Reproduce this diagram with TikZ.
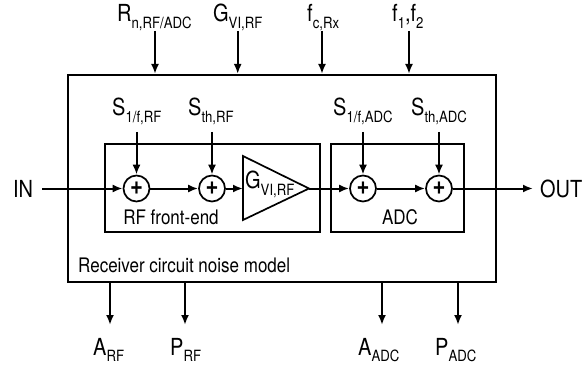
\documentclass[tikz,border=0pt]{standalone}
\usepackage{fontspec}
\setmainfont[FakeStretch=0.85]{TeX Gyre Heros}
\usetikzlibrary{arrows.meta}

\newcommand{\lbl}[2]{#1\raisebox{-0.27em}{\fontsize{15.5}{15.5}\selectfont #2}}

\begin{document}
\begin{tikzpicture}[x=1pt,y=-1pt,>={Latex[length=10pt,width=8pt]}]
	\useasboundingbox (0,0) rectangle (582,369);

	\begin{scope}[every node/.style={draw,line width=2pt,inner sep=0pt}]
		\node (model) at (281.5,178.7) [minimum width=428pt,minimum height=207.5pt] {};
		\node (rfbox) at (212.3,188) [minimum width=214.5pt,minimum height=88pt] {};
		\node (adcbox) at (397.5,188) [minimum width=133pt,minimum height=88pt] {};
	\end{scope}

	\begin{scope}[every node/.style={circle,draw,line width=1.7pt,inner sep=0pt,minimum size=26pt,font=\fontsize{26}{26}\selectfont\bfseries}]
		\node (sum1) at (136.5,188.5) {+};
		\node (sum2) at (212,188.5) {+};
		\node (sum3) at (363,188.5) {+};
		\node (sum4) at (439,188.5) {+};
	\end{scope}

	% amplifier
	\coordinate (ampin) at (243,188.5);
	\coordinate (ampout) at (309,188.5);
	\draw [line width=1.7pt] (243,156) -- (ampout) -- (243,220) -- cycle;

	\begin{scope}[every node/.style={anchor=base west,inner sep=0pt,font=\fontsize{23.5}{23.5}\selectfont}]
		\node (Rn) at (117,22) {\lbl{R}{n,RF/ADC}};
		\node (GviTop) at (213,22) {\lbl{G}{VI,RF}};
		\node (fc) at (307,22) {\lbl{f}{c,Rx}};
		\node (fs) at (392,22) {\lbl{f}{1}\hspace{0pt},\lbl{f}{2}};
		\node (Sfrf) at (112,116) {\lbl{S}{1/f,RF}};
		\node (Sthrf) at (188,116) {\lbl{S}{th,RF}};
		\node (Sfadc) at (333,116) {\lbl{S}{1/f,ADC}};
		\node (Sthadc) at (411,116) {\lbl{S}{th,ADC}};
		\node (Gvi) at (245,189) {\lbl{G}{VI,RF}};
		\node (Arf) at (93,355) {\lbl{A}{RF}};
		\node (Prf) at (170,355) {\lbl{P}{RF}};
		\node (Aadc) at (358,355) {\lbl{A}{ADC}};
		\node (Padc) at (435,355) {\lbl{P}{ADC}};
		\node (IN) at (23,197) [anchor=base,inner xsep=9pt] {IN};
		\node (OUT) at (533,197) [inner xsep=7pt] {OUT};
		\node (rflabel) at (171,225) [anchor=base,font=\fontsize{20}{20}\selectfont] {RF front-end};
		\node (adclabel) at (400,225) [anchor=base,font=\fontsize{20}{20}\selectfont] {ADC};
		\node (modellabel) at (78,272) [font=\fontsize{20}{20}\selectfont] {Receiver circuit noise model};
	\end{scope}

	% free ends of the arrows
	\coordinate (inRn) at (155,31);
	\coordinate (inGvi) at (237.7,31);
	\coordinate (infc) at (322,31);
	\coordinate (infs) at (409,31);
	\coordinate (inSfrf) at (136.5,132);
	\coordinate (inSthrf) at (212,132);
	\coordinate (inSfadc) at (363,132);
	\coordinate (inSthadc) at (439,132);
	\coordinate (outArf) at (110,325);
	\coordinate (outPrf) at (185,325);
	\coordinate (outAadc) at (382,325);
	\coordinate (outPadc) at (458,325);

	\begin{scope}[every edge/.style={draw=black,line width=2pt}]
		\path [->] (inRn) edge (inRn |- model.north);
		\path [->] (inGvi) edge (inGvi |- model.north);
		\path [->] (infc) edge (infc |- model.north);
		\path [->] (infs) edge (infs |- model.north);
		\path [->] (inSfrf) edge (sum1);
		\path [->] (inSthrf) edge (sum2);
		\path [->] (inSfadc) edge (sum3);
		\path [->] (inSthadc) edge (sum4);
		\path [->] (IN.east |- sum1) edge (sum1);
		\path [->] (sum1) edge (sum2);
		\path [->] (sum2) edge (ampin);
		\path [->] (ampout) edge (sum3);
		\path [->] (sum3) edge (sum4);
		\path [->] (sum4) edge (sum4 -| OUT.west);
		\path [->] (outArf |- model.south) edge (outArf);
		\path [->] (outPrf |- model.south) edge (outPrf);
		\path [->] (outAadc |- model.south) edge (outAadc);
		\path [->] (outPadc |- model.south) edge (outPadc);
	\end{scope}
\end{tikzpicture}
\end{document}
